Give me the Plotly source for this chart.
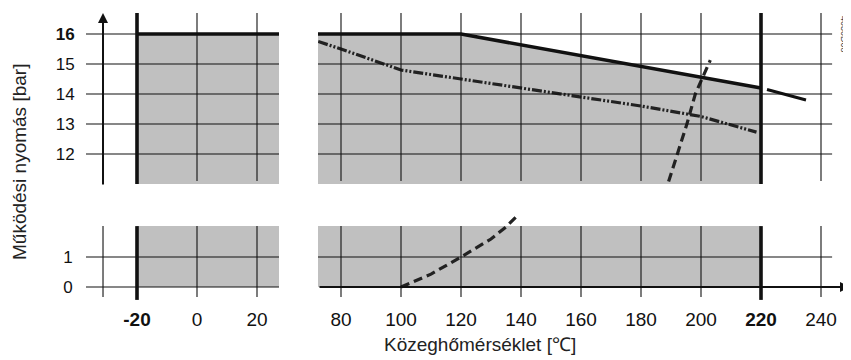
import plotly.graph_objects as go

# page window 851x360; the html body has an 8px margin, so the figure is
# sized 843x352 and all page-pixel positions are shifted by OFF.
PAGE_W, PAGE_H = 851, 360
OFF = 8
W, H = PAGE_W - OFF, PAGE_H - OFF

# ---------------- data ----------------
x_ticks_left = [-20, 0, 20]
x_ticks_right = [80, 100, 120, 140, 160, 180, 200, 220, 240]
y_ticks_top = [12, 13, 14, 15, 16]
y_ticks_bot = [0, 1]

# permitted range (grey) limits
band_left_x = [-20, 27.33]
band_right_x = [72.33, 220]
band_top_left_p = [16, 16]
band_low_p = [2.03, 2.03]

# maximum operating pressure (solid)
temp_max = [72.33, 120, 220]
p_max = [16, 16, 14.2]
temp_ext = [222, 235]
p_ext = [14.15, 13.8]

# dash-dot curve
temp_dd = [72.4, 80, 100, 120, 140, 160, 180, 200, 218.5]
p_dd = [15.75, 15.5, 14.8, 14.5, 14.2, 13.92, 13.6, 13.25, 12.73]

# saturated steam curve (dashed)
temp_steam_hi = [189.2, 195.3, 198.1, 203.1]
p_steam_hi = [11.08, 13.0, 14.0, 15.13]
temp_steam_lo = [100, 110, 120, 130, 135, 139.2]
p_steam_lo = [0, 0.43, 1.0, 1.6, 2.0, 2.42]

# ---------------- geometry helpers (page pixels) ----------------
def dx(a, b):
    return [(a - OFF) / W, (b - OFF) / W]

def dy(top, bottom):
    return [1 - (bottom - OFF) / H, 1 - (top - OFF) / H]

def px(x):
    return (x - OFF) / W

def py(y):
    return 1 - (y - OFF) / H

XL_RANGE = [-37, 27.667]
XR_RANGE = [72.333, 249.667]
YT_RANGE = [11, 16.7]
YB_RANGE = [-0.4333, 2.5]
AXIS_X = -31.33      # position of drawn y axis arrow
GRID_R_END = 243.7   # right end of right-hand horizontal grid lines

GREY = "#c0c0c0"
INK = "#111111"
FONT = "Liberation Sans, Arial, sans-serif"

fig = go.Figure()

# grey fills + max line
fig.add_trace(go.Scatter(x=band_left_x, y=band_top_left_p, xaxis="x", yaxis="y",
                         mode="lines", line=dict(color=INK, width=3.6),
                         fill="tozeroy", fillcolor=GREY))
fig.add_trace(go.Scatter(x=temp_max, y=p_max, xaxis="x2", yaxis="y2",
                         mode="lines", line=dict(color=INK, width=3.6),
                         fill="tozeroy", fillcolor=GREY))
fig.add_trace(go.Scatter(x=band_left_x, y=band_low_p, xaxis="x3", yaxis="y3",
                         mode="lines", line=dict(width=0),
                         fill="tozeroy", fillcolor=GREY))
fig.add_trace(go.Scatter(x=band_right_x, y=band_low_p, xaxis="x4", yaxis="y4",
                         mode="lines", line=dict(width=0),
                         fill="tozeroy", fillcolor=GREY))

# other lines
fig.add_trace(go.Scatter(x=temp_ext, y=p_ext, xaxis="x2", yaxis="y2",
                         mode="lines", line=dict(color=INK, width=3)))
fig.add_trace(go.Scatter(x=temp_dd, y=p_dd, xaxis="x2", yaxis="y2",
                         mode="lines",
                         line=dict(color="#222222", width=3.2,
                                   dash="10px,2px,2px,2px,2px,2px")))
fig.add_trace(go.Scatter(x=temp_steam_hi, y=p_steam_hi, xaxis="x2", yaxis="y2",
                         mode="lines",
                         line=dict(color="#222222", width=3.2, dash="9px,5px")))
fig.add_trace(go.Scatter(x=temp_steam_lo, y=p_steam_lo, xaxis="x4", yaxis="y4",
                         mode="lines",
                         line=dict(color="#222222", width=3.2, dash="9px,5px")))

# ---------------- grid shapes ----------------
shapes = []

def line(xref, yref, x0, y0, x1, y1, w=1.1):
    shapes.append(dict(type="line", xref=xref, yref=yref, x0=x0, y0=y0, x1=x1, y1=y1,
                       line=dict(color=INK, width=w), layer="above"))

# top-left
for v in y_ticks_top:
    line("x", "y", XL_RANGE[0], v, 27.33, v)
for t in x_ticks_left:
    if t == -20:
        line("x", "y", t, 11, t, 16.7, 3.6)
    else:
        line("x", "y", t, 11.1, t, 16.7)
# top-right
for v in y_ticks_top:
    line("x2", "y2", 72.33, v, GRID_R_END, v)
for t in x_ticks_right:
    if t == 220:
        line("x2", "y2", t, 11, t, 16.7, 3.6)
    else:
        line("x2", "y2", t, 11.1, t, 16.7)
# bottom-left
for v in y_ticks_bot:
    line("x3", "y3", XL_RANGE[0], v, 27.33, v)
line("x3", "y3", AXIS_X, -0.33, AXIS_X, 2.03)
for t in x_ticks_left:
    if t == -20:
        line("x3", "y3", t, -0.43, t, 2.03, 3.6)
    else:
        line("x3", "y3", t, -0.33, t, 2.03)
# bottom-right
line("x4", "y4", 72.33, 1, GRID_R_END, 1)
for t in x_ticks_right:
    if t == 220:
        line("x4", "y4", t, -0.43, t, 2.03, 3.6)
    else:
        line("x4", "y4", t, -0.33, t, 2.03)

# ---------------- annotations ----------------
annotations = [
    # y axis arrow
    dict(x=AXIS_X, y=16.7, ax=AXIS_X, ay=10.93, xref="x", yref="y", axref="x", ayref="y",
         text="", showarrow=True, arrowhead=2, arrowsize=1, arrowwidth=2, arrowcolor=INK),
    # x axis arrow
    dict(x=249.667, y=0, ax=72.33, ay=0, xref="x4", yref="y4", axref="x4", ayref="y4",
         text="", showarrow=True, arrowhead=2, arrowsize=1, arrowwidth=2, arrowcolor=INK),
    dict(x=px(480), y=py(344), xref="paper", yref="paper", text="Közeghőmérséklet [℃]",
         showarrow=False, font=dict(family=FONT, size=19, color="#222"),
         xanchor="center", yanchor="middle"),
    dict(x=px(19), y=py(162), xref="paper", yref="paper", text="Működési nyomás [bar]",
         showarrow=False, textangle=-90, font=dict(family=FONT, size=19, color="#222"),
         xanchor="center", yanchor="middle"),
    dict(x=px(844), y=py(34), xref="paper", yref="paper", text="4030D08",
         showarrow=False, textangle=90, font=dict(family=FONT, size=9, color="#444"),
         xanchor="center", yanchor="middle"),
]

def bold_labels(vals, bold):
    return [f"<b>{v}</b>" if v == bold else str(v) for v in vals]

hidden = dict(showgrid=False, zeroline=False, showline=False)
xtickfont = dict(family=FONT, size=19, color=INK)
ytickfont = dict(family=FONT, size=17, color=INK)

fig.update_layout(
    width=W, height=H,
    margin=dict(l=0, r=0, t=0, b=0),
    paper_bgcolor="white", plot_bgcolor="rgba(0,0,0,0)",
    showlegend=False,
    shapes=shapes, annotations=annotations,
    xaxis=dict(domain=dx(86, 280), range=XL_RANGE, anchor="y", showticklabels=False, **hidden),
    yaxis=dict(domain=dy(13, 184), range=YT_RANGE, anchor="x", tickvals=y_ticks_top,
               ticktext=bold_labels(y_ticks_top, 16), ticks="outside", ticklen=7,
               tickcolor="rgba(0,0,0,0)", tickfont=ytickfont, **hidden),
    xaxis2=dict(domain=dx(318, 850), range=XR_RANGE, anchor="y2", showticklabels=False, **hidden),
    yaxis2=dict(domain=dy(13, 184), range=YT_RANGE, anchor="x2", showticklabels=False, **hidden),
    xaxis3=dict(domain=dx(86, 280), range=XL_RANGE, anchor="y3", tickvals=x_ticks_left,
                ticktext=bold_labels(x_ticks_left, -20), ticks="outside", ticklen=2,
                tickcolor="rgba(0,0,0,0)", tickfont=xtickfont, **hidden),
    yaxis3=dict(domain=dy(212, 300), range=YB_RANGE, anchor="x3", tickvals=y_ticks_bot,
                ticks="outside", ticklen=9, tickcolor="rgba(0,0,0,0)", tickfont=ytickfont, **hidden),
    xaxis4=dict(domain=dx(318, 850), range=XR_RANGE, anchor="y4", tickvals=x_ticks_right,
                ticktext=bold_labels(x_ticks_right, 220), ticks="outside", ticklen=2,
                tickcolor="rgba(0,0,0,0)", tickfont=xtickfont, **hidden),
    yaxis4=dict(domain=dy(212, 300), range=YB_RANGE, anchor="x4", showticklabels=False, **hidden),
)

fig.write_html("out.html")
